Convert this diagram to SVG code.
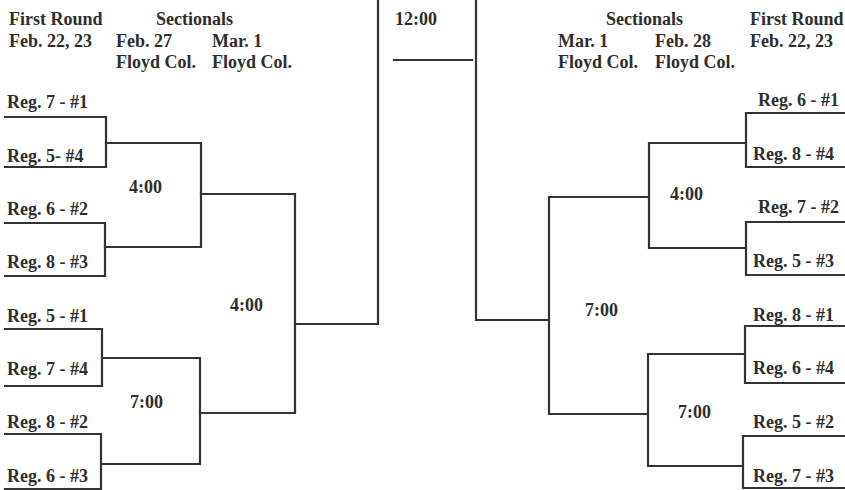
<svg xmlns="http://www.w3.org/2000/svg" width="845" height="490" viewBox="0 0 845 490">
<style>
text{font-family:"Liberation Serif","Times New Roman",serif;font-weight:bold;font-size:18px;fill:#2e2e2e}
.c path{fill:none;stroke:#333;stroke-width:2.2;stroke-linecap:square}
</style>
<rect width="845" height="490" fill="#fff"/>
<g id="headers">
<text x="9" y="25">First Round</text>
<text x="9" y="47">Feb. 22, 23</text>
<text x="156" y="25">Sectionals</text>
<text x="116" y="47">Feb. 27</text>
<text x="212" y="47">Mar. 1</text>
<text x="116" y="68">Floyd Col.</text>
<text x="212" y="68">Floyd Col.</text>
<text x="395" y="25">12:00</text>
<text x="606" y="25">Sectionals</text>
<text x="750" y="25">First Round</text>
<text x="558" y="47">Mar. 1</text>
<text x="655" y="47">Feb. 28</text>
<text x="750" y="47">Feb. 22, 23</text>
<text x="558" y="68">Floyd Col.</text>
<text x="655" y="68">Floyd Col.</text>
</g>
<g class="c" id="connectors">
<path d="M5 117 H106 V167 H5"/>
<path d="M5 223 H105 V276 H5"/>
<path d="M106 143 H201 V247 H105"/>
<path d="M201 194 H295 V413 H200"/>
<path d="M5 329 H102 V386 H5"/>
<path d="M102 358 H200 V464 H101"/>
<path d="M5 434 H101 V489 H5"/>
<path d="M295 324 H378 V0"/>
<path d="M394 60 H472"/>
<path d="M476 0 V320 H549"/>
<path d="M648 414 H549 V197 H649"/>
<path d="M845 113 H746 V167 H845"/>
<path d="M746 143 H649 V248 H746"/>
<path d="M845 222 H746 V275 H845"/>
<path d="M845 326 H745 V383 H845"/>
<path d="M745 354 H648 V466 H743"/>
<path d="M845 436 H743 V488 H845"/>
</g>
<g id="left-r1">
<text x="7" y="108">Reg. 7 - #1</text>
<text x="7" y="162">Reg. 5- #4</text>
<text x="7" y="215">Reg. 6 - #2</text>
<text x="7" y="268">Reg. 8 - #3</text>
<text x="7" y="322">Reg. 5 - #1</text>
<text x="7" y="375">Reg. 7 - #4</text>
<text x="7" y="428">Reg. 8 - #2</text>
<text x="7" y="482">Reg. 6 - #3</text>
</g>
<g id="left-times">
<text x="129" y="193">4:00</text>
<text x="130" y="408">7:00</text>
<text x="230" y="311">4:00</text>
</g>
<g id="right-r1">
<text x="758" y="106">Reg. 6 - #1</text>
<text x="753" y="160">Reg. 8 - #4</text>
<text x="758" y="213">Reg. 7 - #2</text>
<text x="753" y="267">Reg. 5 - #3</text>
<text x="753" y="321">Reg. 8 - #1</text>
<text x="753" y="374">Reg. 6 - #4</text>
<text x="753" y="428">Reg. 5 - #2</text>
<text x="753" y="482">Reg. 7 - #3</text>
</g>
<g id="right-times">
<text x="670" y="200">4:00</text>
<text x="678" y="418">7:00</text>
<text x="585" y="316">7:00</text>
</g>
</svg>
